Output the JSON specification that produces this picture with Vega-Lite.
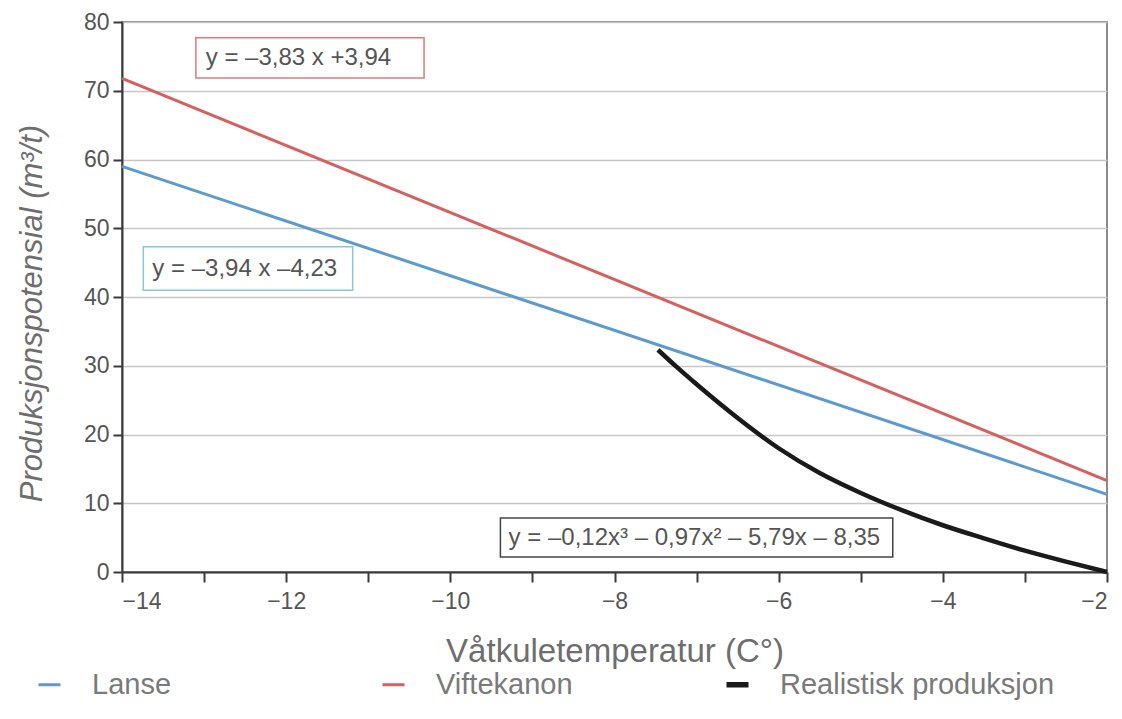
{
  "$schema": "https://vega.github.io/schema/vega-lite/v6.json",
  "width": 985,
  "height": 550,
  "autosize": {"type": "none"},
  "padding": {"left": 122, "top": 22, "right": 15, "bottom": 147},
  "background": "white",
  "config": {
    "font": "Liberation Sans",
    "view": {"stroke": "#8a8a8a", "strokeWidth": 2},
    "axis": {
      "domainColor": "#3a3a3a", "domainWidth": 2,
      "tickColor": "#3a3a3a", "tickWidth": 2,
      "labelFont": "Liberation Sans", "labelColor": "#555555", "labelFontSize": 23,
      "titleFont": "Liberation Sans", "titleColor": "#6e6e6e", "titleFontWeight": "normal"
    },
    "legend": {
      "orient": "none", "legendX": -87, "legendY": 648,
      "direction": "horizontal", "columns": 3, "gridAlign": "all",
      "columnPadding": 4,
      "symbolType": "stroke", "symbolSize": 484,
      "labelFont": "Liberation Sans", "labelFontSize": 29, "labelColor": "#7a7a7a",
      "labelOffset": 28, "labelLimit": 400
    }
  },
  "datasets": {
    "lines": [
      {"serie": "Lanse", "x": -14, "y": 59.0},
      {"serie": "Lanse", "x": -2, "y": 11.3},
      {"serie": "Viftekanon", "x": -14, "y": 71.8},
      {"serie": "Viftekanon", "x": -2, "y": 13.3},
      {"serie": "Realistisk produksjon", "x": -7.47, "y": 32.3},
      {"serie": "Realistisk produksjon", "x": -7.25, "y": 29.9},
      {"serie": "Realistisk produksjon", "x": -7.0, "y": 27.3},
      {"serie": "Realistisk produksjon", "x": -6.5, "y": 22.4},
      {"serie": "Realistisk produksjon", "x": -6.0, "y": 18.0},
      {"serie": "Realistisk produksjon", "x": -5.5, "y": 14.4},
      {"serie": "Realistisk produksjon", "x": -5.0, "y": 11.5},
      {"serie": "Realistisk produksjon", "x": -4.5, "y": 9.0},
      {"serie": "Realistisk produksjon", "x": -4.0, "y": 6.8},
      {"serie": "Realistisk produksjon", "x": -3.5, "y": 4.9},
      {"serie": "Realistisk produksjon", "x": -3.0, "y": 3.1},
      {"serie": "Realistisk produksjon", "x": -2.5, "y": 1.5},
      {"serie": "Realistisk produksjon", "x": -2.0, "y": 0.0}
    ],
    "boxes": [
      {"serie": "Viftekanon", "x1": -13.1, "x2": -10.32, "y1": 71.85, "y2": 77.7, "tx": -12.98, "ty": 74.8, "label": "y = –3,83 x +3,94"},
      {"serie": "Lanse", "x1": -13.74, "x2": -11.19, "y1": 41.0, "y2": 47.3, "tx": -13.63, "ty": 44.1, "label": "y = –3,94 x –4,23"},
      {"serie": "Realistisk produksjon", "x1": -9.39, "x2": -4.61, "y1": 2.2, "y2": 7.85, "tx": -9.29, "ty": 5.0, "label": "y = –0,12x³ – 0,97x² – 5,79x – 8,35"}
    ]
  },
  "layer": [
    {
      "data": {"name": "lines"},
      "mark": {"type": "line", "interpolate": "monotone", "strokeCap": "butt"},
      "encoding": {
        "x": {
          "field": "x", "type": "quantitative",
          "scale": {"domain": [-14, -2], "nice": false, "zero": false},
          "axis": {
            "values": [-14, -13, -12, -11, -10, -9, -8, -7, -6, -5, -4, -3, -2],
            "format": "d",
            "labelExpr": "datum.value % 2 == 0 ? datum.label : ''",
            "tickSize": 10, "labelPadding": 8, "grid": false,
            "title": "Våtkuletemperatur (C°)", "titleFontSize": 33,
            "titleBaseline": "middle", "titleY": 79
          }
        },
        "y": {
          "field": "y", "type": "quantitative",
          "scale": {"domain": [0, 80], "nice": false},
          "axis": {
            "values": [0, 10, 20, 30, 40, 50, 60, 70, 80],
            "format": "d",
            "tickSize": 9, "labelPadding": 4,
            "grid": true, "gridColor": "#c6c6c6", "gridWidth": 1.5,
            "title": "Produksjonspotensial (m³/t)", "titleFontSize": 31,
            "titleFontStyle": "italic", "titleAngle": -90,
            "titleAlign": "center", "titleBaseline": "middle",
            "titleX": -90, "titleY": 291
          }
        },
        "color": {
          "field": "serie", "type": "nominal",
          "scale": {"domain": ["Lanse", "Viftekanon", "Realistisk produksjon"], "range": ["#5b9bd0", "#d6605e", "#1a1a1a"]},
          "legend": {
            "title": null,
            "encode": {"symbols": {"update": {"strokeWidth": {"signal": "datum.label == 'Realistisk produksjon' ? 5.5 : 3"}}}}
          }
        },
        "strokeWidth": {
          "condition": {"test": "datum.serie == 'Realistisk produksjon'", "value": 4.5},
          "value": 3
        }
      }
    },
    {
      "data": {"name": "boxes"},
      "mark": {"type": "rect", "fill": "white", "strokeWidth": 1.5},
      "encoding": {
        "x": {"field": "x1", "type": "quantitative"},
        "x2": {"field": "x2"},
        "y": {"field": "y1", "type": "quantitative"},
        "y2": {"field": "y2"},
        "stroke": {
          "field": "serie", "type": "nominal",
          "scale": {"domain": ["Lanse", "Viftekanon", "Realistisk produksjon"], "range": ["#8cc3d6", "#df7a7c", "#444444"]},
          "legend": null
        }
      }
    },
    {
      "data": {"name": "boxes"},
      "mark": {"type": "text", "align": "left", "baseline": "middle", "fontSize": 24, "color": "#555555", "font": "Liberation Sans"},
      "encoding": {
        "x": {"field": "tx", "type": "quantitative"},
        "y": {"field": "ty", "type": "quantitative"},
        "text": {"field": "label"}
      }
    }
  ],
  "resolve": {"scale": {"stroke": "independent"}}
}
